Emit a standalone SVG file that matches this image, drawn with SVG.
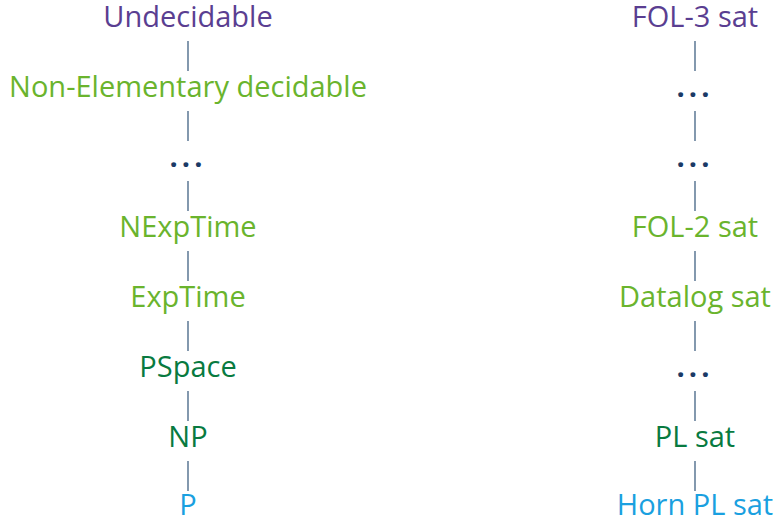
<svg xmlns="http://www.w3.org/2000/svg" width="774" height="519" viewBox="0 0 774 519">
<style>
text{font-family:"Open Sans","Noto Sans","Liberation Sans",sans-serif;font-size:29px;text-anchor:middle}
.u{fill:#5a3e91}.g{fill:#6ab42d}.d{fill:#087a40}.b{fill:#1aa0e0}.k{fill:#1b3a66;letter-spacing:4px;font-weight:bold}
line{stroke:#4f6d8c;stroke-width:1.4}
</style>
<rect width="774" height="519" fill="#fff"/>
<g id="connectors">
<line x1="188" y1="41" x2="188" y2="71"/>
<line x1="188" y1="111" x2="188" y2="141"/>
<line x1="188" y1="181" x2="188" y2="211"/>
<line x1="188" y1="251" x2="188" y2="281"/>
<line x1="188" y1="321" x2="188" y2="351"/>
<line x1="188" y1="391" x2="188" y2="421"/>
<line x1="188" y1="461" x2="188" y2="491"/>
<line x1="695" y1="41" x2="695" y2="71"/>
<line x1="695" y1="111" x2="695" y2="141"/>
<line x1="695" y1="181" x2="695" y2="211"/>
<line x1="695" y1="251" x2="695" y2="281"/>
<line x1="695" y1="321" x2="695" y2="351"/>
<line x1="695" y1="391" x2="695" y2="421"/>
<line x1="695" y1="461" x2="695" y2="491"/>
</g>
<g id="undecidable"><text class="u" x="188" y="27">Undecidable</text></g>
<g id="nonelem"><text class="g" x="188" y="97">Non-Elementary decidable</text></g>
<g id="dotsL"><text class="k" x="188" y="167">...</text></g>
<g id="nexptime"><text class="g" x="188" y="237">NExpTime</text></g>
<g id="exptime"><text class="g" x="188" y="307">ExpTime</text></g>
<g id="pspace"><text class="d" x="188" y="377">PSpace</text></g>
<g id="np"><text class="d" x="188" y="447">NP</text></g>
<g id="p"><text class="b" x="188" y="515">P</text></g>
<g id="fol3"><text class="u" x="695" y="27">FOL-3 sat</text></g>
<g id="dotsR1"><text class="k" x="695" y="97">...</text></g>
<g id="dotsR2"><text class="k" x="695" y="167">...</text></g>
<g id="fol2"><text class="g" x="695" y="237">FOL-2 sat</text></g>
<g id="datalog"><text class="g" x="695" y="307">Datalog sat</text></g>
<g id="dotsR3"><text class="k" x="695" y="377">...</text></g>
<g id="plsat"><text class="d" x="695" y="447">PL sat</text></g>
<g id="hornpl"><text class="b" x="695" y="515">Horn PL sat</text></g>
</svg>
